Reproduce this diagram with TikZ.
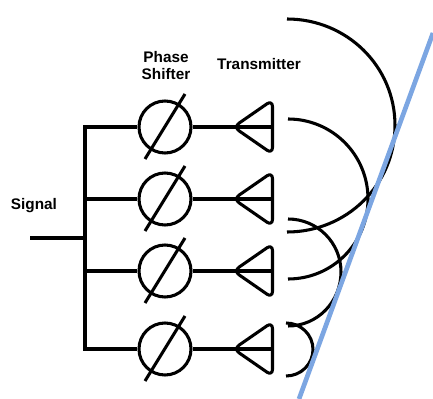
\documentclass[tikz,border=0pt]{standalone}
\usepackage{fontspec}
\setmainfont{Liberation Sans}
\usetikzlibrary{calc}
\definecolor{mirrorBlue}{HTML}{7CA6E2}
\definecolor{inkBlack}{HTML}{000000}

\begin{document}
\begin{tikzpicture}[
  shifter/.style={
    circle, draw=inkBlack, line width=2.3pt, minimum size=39pt, inner sep=0pt,
  },
  antenna/.style={draw=inkBlack, line width=2.3pt, rounded corners=5pt, line join=round},
  wire/.style={draw=inkBlack, line width=2.3pt},
  feed/.style={draw=inkBlack, line width=3pt},
  wave/.style={draw=inkBlack, line width=2.3pt},
  mirror/.style={draw=mirrorBlue, line width=3.5pt},
  lbl/.style={font=\fontsize{11.5}{12.75}\selectfont\bfseries, text=inkBlack, align=center, inner sep=0pt},
  x=0.75pt, y=-0.75pt,
]
\useasboundingbox (0,0) rectangle (433,399);

\node[lbl] at (34,206) (signal) {Signal};
\node[lbl] at (166,65.5) (phase) {Phase\\Shifter};
\node[lbl] at (259,64) (transmit) {Transmitter};

\coordinate (start) at (30,238);
\coordinate (bus)   at (85,238);

\node[shifter] at (165,127) (ps1) {};
\node[shifter] at (165,199) (ps2) {};
\node[shifter] at (165,271) (ps3) {};
\node[shifter] at (165,349) (ps4) {};

\coordinate (tx1) at (272.5,127);
\coordinate (tx2) at (272.5,199);
\coordinate (tx3) at (272.5,271);
\coordinate (tx4) at (272.5,349);

% slashes through the shifters
\draw[wire] ($(ps1)+(-20,32)$) -- ($(ps1)+(20,-33)$);
\draw[wire] ($(ps2)+(-20,32)$) -- ($(ps2)+(20,-33)$);
\draw[wire] ($(ps3)+(-20,32)$) -- ($(ps3)+(20,-33)$);
\draw[wire] ($(ps4)+(-20,32)$) -- ($(ps4)+(20,-33)$);

\draw[feed] (start) -- (bus);
\draw[wire] (ps1) -| (bus);
\draw[wire] (ps2) -| (bus);
\draw[wire] (ps3) -| (bus);
\draw[wire] (ps4) -| (bus);

\draw[wire] (ps1) -- (tx1);
\draw[wire] (ps2) -- (tx2);
\draw[wire] (ps3) -- (tx3);
\draw[wire] (ps4) -- (tx4);

% transmitter horns
\draw[antenna] (tx1) -- ++(0,-27) -- ++(-39,27) -- ++(39,27) -- cycle;
\draw[antenna] (tx2) -- ++(0,-27) -- ++(-39,27) -- ++(39,27) -- cycle;
\draw[antenna] (tx3) -- ++(0,-27) -- ++(-39,27) -- ++(39,27) -- cycle;
\draw[antenna] (tx4) -- ++(0,-27) -- ++(-39,27) -- ++(39,27) -- cycle;

% wave fronts, top to bottom
\coordinate (w1a) at (287,19);
\coordinate (w1b) at (395,125.5);
\coordinate (w1c) at (287,232);
\coordinate (w2a) at (288,119);
\coordinate (w2b) at (368,199);
\coordinate (w2c) at (288,279);
\coordinate (w3a) at (288,219);
\coordinate (w3b) at (341,272);
\coordinate (w3c) at (288,326);
\coordinate (w4a) at (286,323);
\coordinate (w4b) at (313,349.5);
\coordinate (w4c) at (286,376);

\draw[wave] (w1a) to[out=0, in=90] (w1b) to[out=-90, in=0] (w1c);
\draw[wave] (w2a) to[out=0, in=90] (w2b) to[out=-90, in=0] (w2c);
\draw[wave] (w3a) to[out=0, in=90] (w3b) to[out=-90, in=0] (w3c);
\draw[wave] (w4a) to[out=0, in=90] (w4b) to[out=-90, in=0] (w4c);

\coordinate (m1) at (299,399);
\coordinate (m2) at (433,33);
\draw[mirror] (m1) -- (m2);

\end{tikzpicture}
\end{document}
